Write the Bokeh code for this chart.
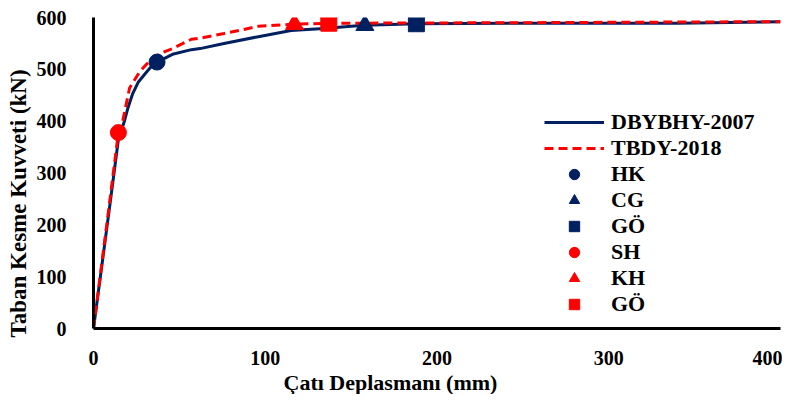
from bokeh.plotting import figure
from bokeh.models import Range1d, Legend, LegendItem, Title
from bokeh.embed import file_html
from bokeh.resources import INLINE

# DBYBHY-2007 capacity curve
blue_x = [0, 5, 10, 14.5, 18, 20, 22.7, 26, 29.7, 33, 37, 46, 57, 62, 76, 96, 115, 134, 150, 158, 188, 250, 340, 400]
blue_y = [0, 125, 250, 365, 400, 425, 452, 475, 490, 503, 514, 529, 538, 540, 550, 563, 575, 579, 583, 585, 588, 589, 589, 592]
# TBDY-2018 capacity curve
red_x = [0, 5, 10, 14.5, 17, 21, 27, 34, 40, 46, 57, 62, 76, 96, 117, 137, 150, 250, 400]
red_y = [0, 130, 260, 378, 400, 464, 496, 521, 532, 540, 558, 560, 569, 583, 587, 589, 589, 590, 592]

# Performance points
blue_pts_x = [37, 158, 188]
blue_pts_y = [514, 585, 588]
blue_pts_labels = ["HK", "CG", "GÖ"]
red_pts_x = [14.5, 117, 137]
red_pts_y = [378, 587, 589]
red_pts_labels = ["SH", "KH", "GÖ"]
markers = ["circle", "triangle", "square"]

x_ticks = [0, 100, 200, 300, 400]
y_ticks = [0, 100, 200, 300, 400, 500, 600]
x_title = "Çatı Deplasmanı (mm)"
y_title = "Taban Kesme Kuvveti (kN)"

BLUE = "#002060"
RED = "#FF0000"
FONT = "Liberation Serif"

p = figure(width=782, height=394, output_backend="svg", toolbar_location=None,
           x_range=Range1d(0, 400), y_range=Range1d(0, 600),
           min_border_left=92, min_border_right=2, min_border_top=17, min_border_bottom=66)
p.outline_line_color = None
p.xgrid.grid_line_color = None
p.ygrid.grid_line_color = None

for ax in (p.xaxis[0], p.yaxis[0]):
    ax.axis_line_color = "black"
    ax.axis_line_width = 3
    ax.major_tick_line_color = None
    ax.minor_tick_line_color = None
    ax.major_label_text_font = FONT
    ax.major_label_text_font_style = "bold"
    ax.major_label_text_font_size = "20px"
    ax.major_label_text_color = "black"

p.xaxis.ticker = x_ticks
p.yaxis.ticker = y_ticks
p.xaxis.major_label_standoff = 16
p.yaxis.major_label_standoff = 21

# axis titles (placed as in the reference, slightly off-centre)
p.add_layout(Title(text=x_title, align="left", offset=190, standoff=0,
                   text_font=FONT, text_font_style="bold", text_font_size="22px", text_color="black"), "below")
p.add_layout(Title(text=y_title, align="left", offset=-9, standoff=6,
                   text_font=FONT, text_font_style="bold", text_font_size="23px", text_color="black"), "left")

r_blue = p.line(blue_x, blue_y, line_color=BLUE, line_width=3)
r_red = p.line(red_x, red_y, line_color=RED, line_width=3, line_dash="9 5")

items = [LegendItem(label="DBYBHY-2007", renderers=[r_blue]),
         LegendItem(label="TBDY-2018", renderers=[r_red])]
for i in range(3):
    rb = p.scatter([blue_pts_x[i]], [blue_pts_y[i]], marker=markers[i], size=16 if markers[i] != "triangle" else 18,
                   fill_color=BLUE, line_color=BLUE)
    items.append(LegendItem(label=blue_pts_labels[i], renderers=[rb]))
for i in range(3):
    rr = p.scatter([red_pts_x[i]], [red_pts_y[i]], marker=markers[i], size=16 if markers[i] != "triangle" else 18,
                   fill_color=RED, line_color=RED)
    items.append(LegendItem(label=red_pts_labels[i], renderers=[rr]))

legend = Legend(items=items, location=(451, 11), orientation="vertical")
legend.border_line_color = None
legend.background_fill_alpha = 0
legend.padding = 0
legend.margin = 0
legend.spacing = 0
legend.glyph_width = 60
legend.glyph_height = 26
legend.label_height = 26
legend.label_standoff = 7
legend.label_text_font = FONT
legend.label_text_font_style = "bold"
legend.label_text_font_size = "22px"
legend.label_text_color = "black"
p.add_layout(legend, "center")

open("out.html", "w").write(file_html(p, INLINE))
